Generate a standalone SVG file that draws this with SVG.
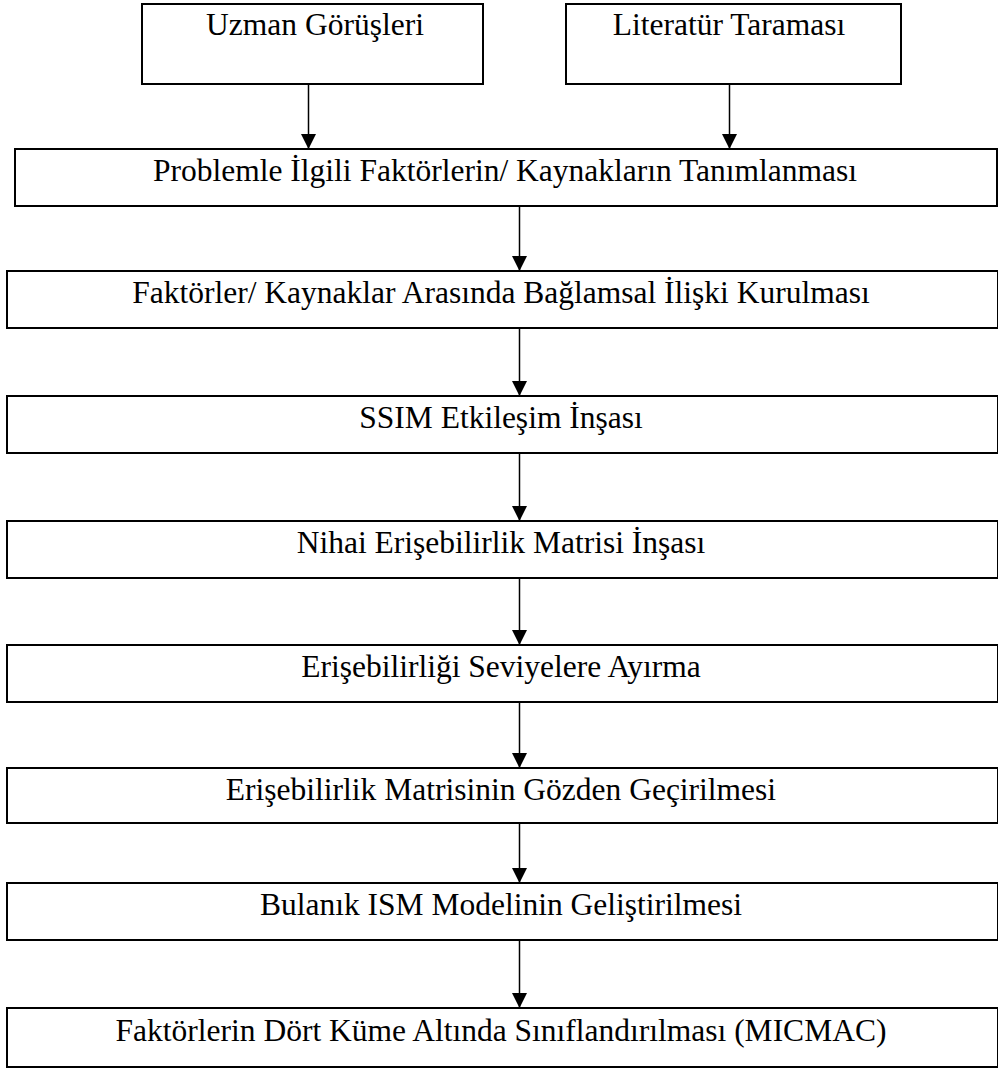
<svg xmlns="http://www.w3.org/2000/svg" width="998" height="1077" viewBox="0 0 998 1077">
<style>
  .box { fill: #ffffff; stroke: #000000; stroke-width: 2; }
  .lbl { font-family: "Liberation Serif", "Times New Roman", serif; font-size: 31.5px; fill: #000000; text-anchor: middle; }
  .conn { stroke: #000000; stroke-width: 1.5; fill: none; }
</style>
<defs>
  <marker id="arr" markerUnits="userSpaceOnUse" markerWidth="16" markerHeight="16" refX="15" refY="7.5" orient="auto">
    <path d="M0,0 L15,7.5 L0,15 Z" fill="#000000"/>
  </marker>
</defs>
<rect width="998" height="1077" fill="#ffffff"/>
<g id="n-uzman">
  <rect class="box" x="142" y="4" width="341" height="80"/>
  <text class="lbl" x="315" y="35">Uzman Görüşleri</text>
</g>
<g id="n-literatur">
  <rect class="box" x="566" y="4" width="335" height="80"/>
  <text class="lbl" x="729" y="35">Literatür Taraması</text>
</g>
<g id="n-problem">
  <rect class="box" x="15" y="149" width="982" height="57"/>
  <text class="lbl" x="505" y="181">Problemle İlgili Faktörlerin/ Kaynakların Tanımlanması</text>
</g>
<g id="n-iliski">
  <rect class="box" x="7" y="271" width="991" height="57"/>
  <text class="lbl" x="501" y="303">Faktörler/ Kaynaklar Arasında Bağlamsal İlişki Kurulması</text>
</g>
<g id="n-ssim">
  <rect class="box" x="7" y="396" width="991" height="57"/>
  <text class="lbl" x="501" y="428">SSIM Etkileşim İnşası</text>
</g>
<g id="n-nihai">
  <rect class="box" x="7" y="521" width="991" height="57"/>
  <text class="lbl" x="501" y="553">Nihai Erişebilirlik Matrisi İnşası</text>
</g>
<g id="n-seviye">
  <rect class="box" x="7" y="645" width="991" height="57"/>
  <text class="lbl" x="501" y="677">Erişebilirliği Seviyelere Ayırma</text>
</g>
<g id="n-gozden">
  <rect class="box" x="7" y="768" width="991" height="55"/>
  <text class="lbl" x="501" y="800">Erişebilirlik Matrisinin Gözden Geçirilmesi</text>
</g>
<g id="n-bulanik">
  <rect class="box" x="7" y="883" width="991" height="57"/>
  <text class="lbl" x="501" y="915">Bulanık ISM Modelinin Geliştirilmesi</text>
</g>
<g id="n-micmac">
  <rect class="box" x="7" y="1008" width="991" height="59"/>
  <text class="lbl" x="501" y="1041">Faktörlerin Dört Küme Altında Sınıflandırılması (MICMAC)</text>
</g>
<g id="connectors">
  <line class="conn" x1="308.5" y1="85" x2="308.5" y2="149" marker-end="url(#arr)"/>
  <line class="conn" x1="729.5" y1="85" x2="729.5" y2="149" marker-end="url(#arr)"/>
  <line class="conn" x1="519.5" y1="207" x2="519.5" y2="271" marker-end="url(#arr)"/>
  <line class="conn" x1="519.5" y1="329" x2="519.5" y2="396" marker-end="url(#arr)"/>
  <line class="conn" x1="519.5" y1="454" x2="519.5" y2="521" marker-end="url(#arr)"/>
  <line class="conn" x1="519.5" y1="579" x2="519.5" y2="645" marker-end="url(#arr)"/>
  <line class="conn" x1="519.5" y1="703" x2="519.5" y2="768" marker-end="url(#arr)"/>
  <line class="conn" x1="519.5" y1="824" x2="519.5" y2="883" marker-end="url(#arr)"/>
  <line class="conn" x1="519.5" y1="941" x2="519.5" y2="1008" marker-end="url(#arr)"/>
</g>
</svg>
